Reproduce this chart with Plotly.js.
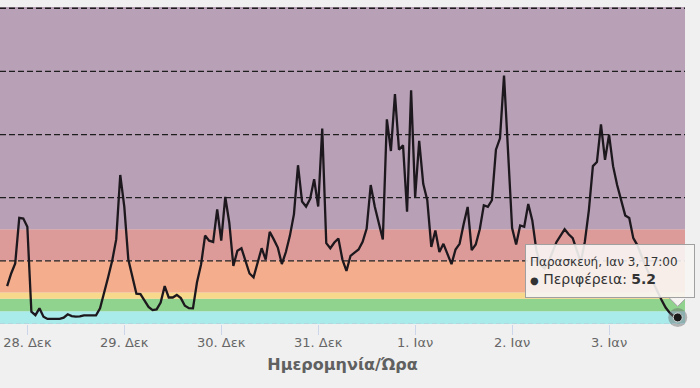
<!DOCTYPE html>
<html>
<head>
<meta charset="utf-8">
<script src="https://cdn.plot.ly/plotly-3.0.1.min.js"></script>
<style>html,body{margin:0;padding:0;background:#f0f0f0;}#chart{width:700px;height:388px;}</style>
</head>
<body>
<div id="chart"></div>
<script>
// Hourly PM readings, first reading 2019-12-27 19:00, last 2020-01-03 17:00
const startTime = '2019-12-27T19:00:00';
const values = [
  30, 40, 48, 84, 83.5,
  77, 9.7, 7, 12.4, 5.8, 4, 4, 4, 4, 5, 7.7, 6.3, 5.8, 6, 6.9, 6.9, 6.9, 6.9, 12.4, 24, 37, 50, 67, 118,
  93, 51, 38, 24, 23.7, 18, 13.5, 11, 11.6, 17, 30, 21, 21, 23, 20.5, 14.5, 12.5, 12.4, 33, 47, 70, 66, 65, 90.7,
  66, 100.6, 80, 46, 58, 60, 49.5, 40, 37, 48, 60, 51, 73, 67, 60.5, 47.5, 57, 70, 87, 125.7, 97, 93, 99, 114.6,
  93, 154.7, 64, 60, 64.5, 67.7, 51, 42, 54, 56.5, 59, 65, 75.6, 110, 93, 80, 67, 162, 137, 182, 138, 141.5, 89, 185,
  100.6, 145, 111, 98, 61, 74, 57, 63.5, 56, 47.4, 59, 63.5, 79, 92.7, 58.5, 63, 75, 94, 92.7, 98, 138, 147, 196.8, 133,
  76, 63, 78, 77, 95, 82, 58.5, 47, 44, 49, 57, 65, 70, 75, 71, 68, 58.5, 49, 65, 90, 125, 128.3, 158, 130,
  150, 125, 110, 98, 86, 84, 68, 62.5, 54, 46, 39, 32, 25, 19, 13, 9, 6, 5.2
];
const tickDates = ['2019-12-28','2019-12-29','2019-12-30','2019-12-31','2020-01-01','2020-01-02','2020-01-03'];
const tickLabels = ['28. Δεκ','29. Δεκ','30. Δεκ','31. Δεκ','1. Ιαν','2. Ιαν','3. Ιαν'];
const bandLimits = [0, 10, 20, 25, 50, 75, 251];
const bandColors = ['#a9ebea','#8fd38e','#f8d98b','#f4ae8d','#dc9b99','#b8a0b6'];
const gridValues = [50, 100, 150, 200, 250];
const seriesName = 'Περιφέρεια';
const tooltipDate = 'Παρασκευή, Ιαν 3, 17:00';

function pad(n){return (n<10?'0':'')+n;}
const t0 = new Date(startTime + 'Z').getTime();
const times = values.map((v,i)=>{
  const d = new Date(t0 + i*3600000);
  return d.getUTCFullYear()+'-'+pad(d.getUTCMonth()+1)+'-'+pad(d.getUTCDate())+' '+pad(d.getUTCHours())+':00';
});
const lastX = times[times.length-1];
const lastY = values[values.length-1];

const shapes = [];
for (let i=0;i<bandColors.length;i++){
  shapes.push({type:'rect', xref:'paper', yref:'y', x0:0, x1:1, y0:bandLimits[i], y1:bandLimits[i+1],
    fillcolor:bandColors[i], line:{width:0}, layer:'below'});
}
// dashed horizontal grid lines
gridValues.forEach(g=>{
  shapes.push({type:'line', xref:'paper', yref:'y', x0:0, x1:1, y0:g, y1:g,
    line:{color:'#1e1e1e', width:1.3, dash:'6px,3px'}, layer:'below'});
});
shapes.push({type:'line', xref:'paper', yref:'y', x0:0, x1:1, y0:0, y1:0,
  line:{color:'#b9c5d2', width:1, dash:'5px,3px'}, layer:'above'});
// tooltip notch
shapes.push({type:'path', xref:'x', yref:'y', xsizemode:'pixel', ysizemode:'pixel',
  xanchor:lastX, yanchor:lastY, path:'M -9,20 L 0,11 L 9,20 Z',
  fillcolor:'#f6f4f3', opacity:1, line:{color:'#a0a0a0', width:1}, layer:'above'});

const traces = [
  {x:times, y:values, type:'scatter', mode:'lines', name:seriesName,
   line:{color:'#1d181d', width:2.3}, hoverinfo:'skip'},
  {x:[lastX], y:[lastY], type:'scatter', mode:'markers', cliponaxis:false,
   marker:{size:19, color:'rgba(105,105,105,0.45)'}, hoverinfo:'skip'},
  {x:[lastX], y:[lastY], type:'scatter', mode:'markers', cliponaxis:false,
   marker:{size:9, color:'#1a1a1a', line:{color:'#d8d8d8', width:1}}, hoverinfo:'skip'}
];

const layout = {
  width:700, height:388,
  margin:{l:0, r:15, t:7, b:64},
  paper_bgcolor:'#f0f0f0', plot_bgcolor:'#f0f0f0',
  showlegend:false, hovermode:false,
  font:{family:'DejaVu Sans, Verdana, sans-serif', color:'#666'},
  xaxis:{type:'date', range:['2019-12-27 17:14','2020-01-03 18:48'],
    tickvals:tickDates, ticktext:tickLabels, tickfont:{size:13, color:'#666'},
    ticks:'outside', ticklen:10, tickcolor:'#ccd6eb', tickwidth:1, ticklabelstandoff:-4,
    showgrid:false, zeroline:false, showline:false,
    title:{text:'<b>Ημερομηνία/Ώρα</b>', font:{size:16, color:'#606060'}, standoff:10}},
  yaxis:{range:[0,251], tickvals:gridValues, showticklabels:false, ticks:'',
    showgrid:false, zeroline:false, showline:false, fixedrange:true},
  shapes:shapes,
  annotations:[{
    xref:'x', yref:'y', x:lastX, y:lastY, showarrow:false,
    xanchor:'right', yanchor:'bottom', xshift:17, yshift:19,
    align:'left', valign:'middle', width:160, height:44, borderpad:4,
    bgcolor:'rgba(247,245,244,0.9)', bordercolor:'#a0a0a0', borderwidth:1,
    font:{size:14, color:'#333'},
    text:'<span style="font-size:12px">'+tooltipDate+'</span><br><span style="font-size:10px">●</span> '+seriesName+': <b>'+lastY.toFixed(1)+'</b>'
  }]
};

Plotly.newPlot('chart', traces, layout, {displayModeBar:false, staticPlot:true});
</script>
</body>
</html>
